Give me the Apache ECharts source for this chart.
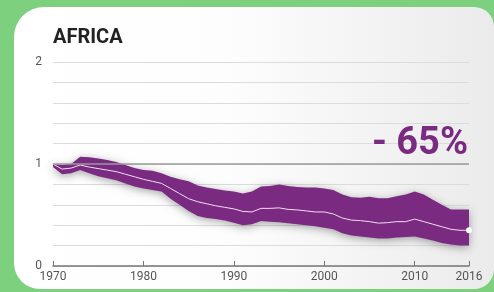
<!DOCTYPE html>
<html>
<head>
<meta charset="utf-8">
<script src="https://cdn.jsdelivr.net/npm/echarts@6/dist/echarts.min.js"></script>
<style>
html,body{margin:0;padding:0;background:#7dd07e;}
#c{width:494px;height:292px;}
</style>
</head>
<body>
<div id="c"></div>
<script>
const title = 'AFRICA';
const changeLabel = '- 65%';
const years = [];
for (let y = 1970; y <= 2016; y++) years.push(y);
const indexValues = [1.00,0.95,0.96,0.99,0.97,0.955,0.94,0.925,0.90,0.875,
  0.85,0.83,0.81,0.76,0.71,0.66,0.63,0.61,0.59,0.575,
  0.56,0.535,0.53,0.565,0.565,0.57,0.555,0.55,0.54,0.53,
  0.53,0.51,0.47,0.45,0.445,0.435,0.42,0.425,0.435,0.435,
  0.46,0.435,0.41,0.385,0.36,0.35,0.35];
const upperValues = [1.00,0.99,1.00,1.07,1.065,1.055,1.04,1.02,0.99,0.96,
  0.94,0.935,0.91,0.875,0.85,0.83,0.79,0.77,0.755,0.74,
  0.73,0.71,0.73,0.78,0.785,0.80,0.785,0.775,0.77,0.77,
  0.76,0.745,0.70,0.675,0.67,0.68,0.665,0.665,0.685,0.70,
  0.73,0.70,0.65,0.60,0.555,0.555,0.555];
const lowerValues = [0.97,0.90,0.91,0.94,0.91,0.88,0.86,0.84,0.81,0.78,
  0.76,0.745,0.73,0.66,0.60,0.54,0.49,0.47,0.46,0.445,
  0.425,0.40,0.41,0.44,0.435,0.43,0.42,0.41,0.40,0.39,
  0.375,0.36,0.32,0.30,0.29,0.28,0.27,0.27,0.28,0.285,
  0.29,0.27,0.25,0.225,0.21,0.20,0.20];
const xTicks = [1970,1980,1990,2000,2010,2016];
const yTicks = [0,1,2];

const purple = '#7a2a80';
const chart = echarts.init(document.getElementById('c'), null, {renderer:'canvas'});

const lineData = years.map((y,i)=> i===years.length-1
  ? {value:[y, indexValues[i]], symbol:'circle', symbolSize:6}
  : {value:[y, indexValues[i]], symbol:'none'});

const gridColor = '#dcdcdc';

chart.setOption({
  animation:false,
  backgroundColor:'transparent',
  graphic:[
    {type:'rect', z:-10, shape:{x:14,y:7,width:480,height:282,r:[30,20,20,26]},
     style:{fill:new echarts.graphic.LinearGradient(0,0,1,0,[
       {offset:0,color:'#ffffff'},{offset:0.45,color:'#fdfdfd'},{offset:1,color:'#ebebeb'}])}},
    {type:'text', right:26, top:125, z:100,
     style:{text:changeLabel, fill:purple, font:'bold 38px Roboto', textAlign:'right'}}
  ],
  title:{text:title, left:53, top:28, padding:0,
    textStyle:{fontFamily:'Roboto', fontWeight:'bold', fontSize:20, color:'#222'}},
  grid:{left:53, right:25, top:62, bottom:26},
  xAxis:{type:'value', min:1970, max:2016,
    axisLine:{lineStyle:{color:'#777', width:1.5}},
    axisTick:{show:true, inside:true, length:5, customValues:xTicks, lineStyle:{color:'#777', width:1}},
    axisLabel:{customValues:xTicks, margin:5, fontFamily:'Roboto', fontSize:12, color:'#555',
      formatter:v=>String(v)},
    splitLine:{show:false}},
  yAxis:{type:'value', min:0, max:2, interval:0.2,
    axisLine:{show:false}, axisTick:{show:false},
    axisLabel:{customValues:yTicks, margin:11, fontFamily:'Roboto', fontSize:12, color:'#555',
      formatter:v=>String(Math.round(v))},
    splitLine:{show:true, lineStyle:{color:gridColor, width:1}}},
  series:[
    {type:'line', data:[], symbol:'none', z:2,
     markLine:{silent:true, symbol:'none', label:{show:false},
       lineStyle:{color:'#9a9a9a', width:1.6, type:'solid'},
       data:[{yAxis:1}]}},
    {type:'custom', z:3, data:[[years[0], upperValues[0]]],
     renderItem:function(params, api){
       const pts = [];
       for (let i=0;i<years.length;i++) pts.push(api.coord([years[i], upperValues[i]]));
       for (let i=years.length-1;i>=0;i--) pts.push(api.coord([years[i], lowerValues[i]]));
       return {type:'polygon', shape:{points:pts},
         style:{fill:purple, shadowBlur:8, shadowColor:'rgba(0,0,0,0.35)', shadowOffsetY:2}};
     }},
    {type:'line', data:lineData, showSymbol:true, showAllSymbol:true, z:4,
     lineStyle:{color:'#f3dcf3', width:1},
     itemStyle:{color:'#ffffff', borderWidth:0}}
  ]
});
</script>
</body>
</html>
